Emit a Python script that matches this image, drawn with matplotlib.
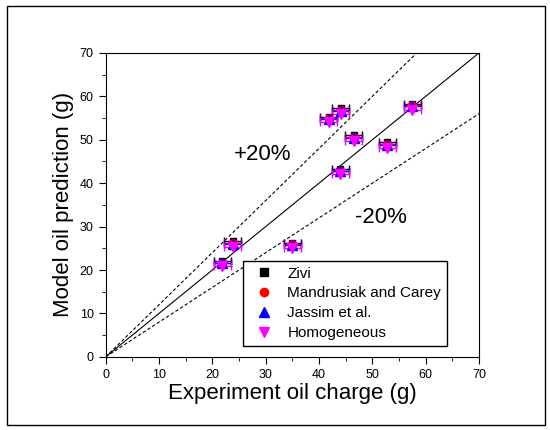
from matplotlib import pyplot as plt
from matplotlib.patches import Rectangle
from matplotlib.lines import Line2D
import numpy as np

plt.rcParams['font.family'] = ['Liberation Sans', 'DejaVu Sans']

# experiment oil charge (g)
x_exp = [21.9, 23.8, 35.0, 41.8, 44.1, 44.0, 46.5, 52.8, 57.5]
x_err = [1.6, 1.6, 1.6, 1.6, 1.6, 1.6, 1.6, 1.6, 1.6]

# model predictions (g)
zivi = [22.0, 26.6, 26.2, 55.2, 57.2, 43.2, 51.0, 49.4, 58.2]
mandrusiak = [21.7, 26.3, 25.9, 54.9, 56.9, 42.9, 50.7, 49.1, 57.9]
jassim = [21.6, 26.1, 25.7, 54.7, 56.7, 42.7, 50.5, 48.9, 57.7]
homog = [20.9, 25.4, 25.0, 54.0, 56.0, 42.2, 49.8, 48.2, 56.9]

fig = plt.figure(figsize=(5.5, 4.3), dpi=100)
ax = fig.add_axes([0.192, 0.170, 0.679, 0.707])

fig.patches.append(Rectangle((0.012, 0.012), 0.979, 0.975, transform=fig.transFigure,
                             fill=False, edgecolor='black', linewidth=1.0))

xl = np.array([0, 70])
ax.plot(xl, xl, color='black', linewidth=0.8)
ax.plot(xl, 1.2 * xl, color='black', linewidth=0.8, linestyle=(0, (3, 2)))
ax.plot(xl, 0.8 * xl, color='black', linewidth=0.8, linestyle=(0, (3, 2)))

series = [
    (zivi, 's', 'black', 5, 'Zivi'),
    (mandrusiak, 'o', 'red', 5.5, 'Mandrusiak and Carey'),
    (jassim, '^', 'blue', 6.5, 'Jassim et al.'),
    (homog, 'v', 'magenta', 6.5, 'Homogeneous'),
]
handles = []
for y, m, c, ms, lab in series:
    ax.errorbar(x_exp, y, xerr=x_err, fmt=m, color=c, ecolor=c, markersize=ms,
                elinewidth=1.0, capsize=3, capthick=1.0)
    handles.append(Line2D([], [], linestyle='none', marker=m, color=c,
                          markersize=ms + 0.5, label=lab))

ax.text(29.5, 46.6, '+20%', fontsize=16, ha='center', va='center')
ax.text(51.6, 32.0, '-20%', fontsize=16, ha='center', va='center')

ax.set_xlim(0, 70)
ax.set_ylim(0, 70)
ax.set_xticks(np.arange(0, 71, 10))
ax.set_yticks(np.arange(0, 71, 10))
ax.set_xticks(np.arange(0, 71, 5), minor=True)
ax.set_yticks(np.arange(0, 71, 5), minor=True)
ax.tick_params(which='both', direction='out', top=False, right=False, labelsize=9)
ax.tick_params(which='major', length=5)
ax.tick_params(which='minor', length=3)

ax.set_xlabel('Experiment oil charge (g)', fontsize=16, labelpad=2)
ax.set_ylabel('Model oil prediction (g)', fontsize=16, labelpad=4)

leg = ax.legend(handles=handles, loc='lower right', bbox_to_anchor=(0.935, 0.01),
                fontsize=11, frameon=True, fancybox=False, framealpha=1,
                edgecolor='black', handletextpad=0.5, borderpad=0.4,
                labelspacing=0.38, numpoints=1, handlelength=2.0)
leg.get_frame().set_linewidth(1.0)

fig.savefig('out.png', dpi=100)
